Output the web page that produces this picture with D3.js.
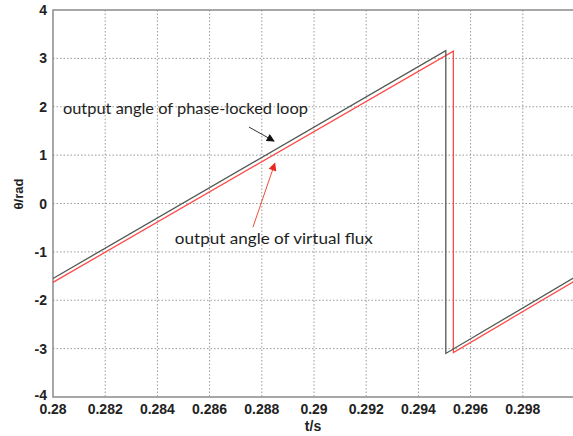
<!DOCTYPE html>
<html>
<head>
<meta charset="utf-8">
<script src="https://cdn.jsdelivr.net/npm/d3@7"></script>
<style>
  body { margin: 0; background: #fff; }
  .grid line { stroke: #9a9a9a; stroke-dasharray: 1.5,2; stroke-width: 1; }
  .tick-label { font-family: "Liberation Sans", Arial, sans-serif; font-weight: bold; font-size: 14px; fill: #222; }
  .note { font-family: Lato, "Open Sans", sans-serif; font-size: 16px; fill: #1e1e1e; }
</style>
</head>
<body>
<svg id="chart"></svg>
<script>
// Data: PLL angle (black) and virtual flux angle (red)
const pllTime = [0.28, 0.29505, 0.29505, 0.30];
const pllTheta = [-1.55, 3.16, -3.10, -1.52];
const fluxTime = [0.28, 0.29534, 0.29534, 0.30];
const fluxTheta = [-1.63, 3.15, -3.08, -1.60];

const xTicks = [0.28, 0.282, 0.284, 0.286, 0.288, 0.29, 0.292, 0.294, 0.296, 0.298];
const yTicks = [-4, -3, -2, -1, 0, 1, 2, 3, 4];

const width = 573;
const height = 436;

const svg = d3.select("#chart")
  .attr("width", width)
  .attr("height", height);

// Plot area
const pLeft = 53, pRight = 575, pTop = 10, pBottom = 397;

const x = d3.scaleLinear().domain([0.28, 0.30]).range([pLeft, pRight]);
const y = d3.scaleLinear().domain([-4, 4]).range([pBottom, pTop]);

// Grid lines
const grid = svg.append("g").attr("class", "grid");
grid.selectAll(".gx")
  .data(xTicks.slice(1))
  .enter()
  .append("line")
  .attr("x1", d => x(d)).attr("x2", d => x(d))
  .attr("y1", pTop).attr("y2", pBottom);
grid.selectAll(".gy")
  .data(yTicks.slice(1, -1))
  .enter()
  .append("line")
  .attr("x1", pLeft).attr("x2", pRight)
  .attr("y1", d => y(d)).attr("y2", d => y(d));

// Axes frame (left, top, bottom)
svg.append("path")
  .attr("d", `M${pRight},${pTop}H${pLeft}V${pBottom}H${pRight}`)
  .attr("fill", "none")
  .attr("stroke", "#8a8a8a")
  .attr("stroke-width", 1.5);

// Tick labels
svg.selectAll(".xl")
  .data(xTicks)
  .enter()
  .append("text")
  .attr("class", "tick-label")
  .attr("x", d => x(d))
  .attr("y", 414)
  .attr("text-anchor", "middle")
  .text(d => String(+d.toFixed(3)));

svg.selectAll(".yl")
  .data(yTicks)
  .enter()
  .append("text")
  .attr("class", "tick-label")
  .attr("x", 47)
  .attr("y", d => y(d) + (d === -4 ? 3 : 5))
  .attr("text-anchor", "end")
  .text(d => d);

// Axis titles
svg.append("text")
  .attr("class", "tick-label")
  .attr("x", 313)
  .attr("y", 431)
  .attr("text-anchor", "middle")
  .text("t/s");

svg.append("text")
  .attr("class", "tick-label")
  .style("font-size", "13px")
  .attr("transform", "translate(23,194) rotate(-90)")
  .attr("text-anchor", "middle")
  .text("θ/rad");

// Curves
const line = d3.line()
  .x(d => x(d[0]))
  .y(d => y(d[1]));

svg.append("path")
  .datum(d3.zip(fluxTime, fluxTheta))
  .attr("fill", "none")
  .attr("stroke", "#ff4a4a")
  .attr("stroke-width", 1.3)
  .attr("d", line);

svg.append("path")
  .datum(d3.zip(pllTime, pllTheta))
  .attr("fill", "none")
  .attr("stroke", "#4f5a52")
  .attr("stroke-width", 1.3)
  .attr("d", line);

// Annotations
const defs = svg.append("defs");
[["headBlack", "#111"], ["headRed", "#e8281e"]].forEach(([id, c]) => {
  defs.append("marker")
    .attr("id", id)
    .attr("viewBox", "0 0 10 10")
    .attr("refX", 9).attr("refY", 5)
    .attr("markerWidth", 10).attr("markerHeight", 8)
    .attr("markerUnits", "userSpaceOnUse")
    .attr("orient", "auto")
    .append("path")
    .attr("d", "M0,0L10,5L0,10z")
    .attr("fill", c);
});

svg.append("line")
  .attr("x1", x(0.28751)).attr("y1", y(1.58))
  .attr("x2", x(0.28847)).attr("y2", y(1.29))
  .attr("stroke", "#333").attr("stroke-width", 1)
  .attr("marker-end", "url(#headBlack)");

svg.append("line")
  .attr("x1", x(0.28766)).attr("y1", y(-0.49))
  .attr("x2", x(0.2885)).attr("y2", y(0.83))
  .attr("stroke", "#e8503c").attr("stroke-width", 1)
  .attr("marker-end", "url(#headRed)");

svg.append("text")
  .attr("class", "note")
  .attr("x", x(0.28038))
  .attr("y", y(1.85))
  .attr("textLength", 245)
  .attr("lengthAdjust", "spacingAndGlyphs")
  .text("output angle of phase-locked loop");

svg.append("text")
  .attr("class", "note")
  .attr("x", x(0.28467))
  .attr("y", y(-0.84))
  .attr("textLength", 198)
  .attr("lengthAdjust", "spacingAndGlyphs")
  .text("output angle of virtual flux");
</script>
</body>
</html>
